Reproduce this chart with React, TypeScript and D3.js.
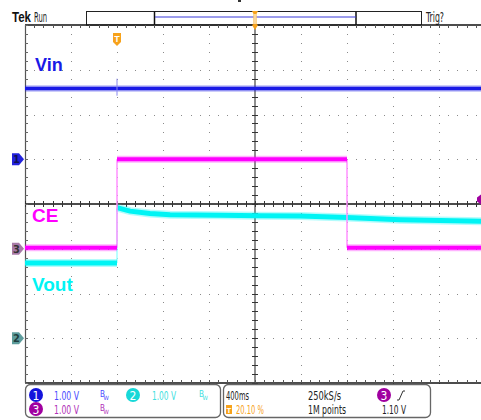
import React from "react";
import * as d3 from "d3";

// ---- data ----
const timeRange = [-0.8, 3.2]; // seconds, 400 ms/div, trigger at 20.10 %
const vinTimes = [-0.8, 3.2];
const vinVolts = [1.58, 1.58];
const vinSpikeTime = [0];
const vinSpikeVolts = [1.42, 1.8];
const ceTimes = [-0.8, 0, 0, 2.0, 2.0, 3.2];
const ceVolts = [0.02, 0.02, 2.0, 2.0, 0.02, 0.02];
const voutTimes = [-0.8, 0, 0, 0.113, 0.287, 0.461, 0.896, 1.243, 1.591, 2.0, 2.461, 2.809, 3.2];
const voutVolts = [1.68, 1.68, 2.92, 2.84, 2.79, 2.76, 2.75, 2.74, 2.73, 2.7, 2.65, 2.63, 2.61];
const channelOffsets = [1, -3, -1]; // ch1, ch2, ch3 (divisions)
const labels = ["Vin", "CE", "Vout"];
const scaleTexts = ["1.00 V", "1.00 V", "1.00 V"];
const horizTexts = ["400ms", "250kS/s", "20.10 %", "1M points", "1.10 V"];

const W = 481;
const H = 420;
const NARROW = "'Liberation Sans Narrow','DejaVu Sans Condensed','Arial Narrow',sans-serif";
const BOLD = "'Liberation Sans',Arial,sans-serif";

const BLUE = "#1a1ae6";
const MAGENTA = "#ff00ff";
const CYAN = "#00f4f4";
const PURPLE = "#a000a0";
const ORANGE = "#f7a21b";

export default function App() {
  const xDiv = d3.scaleLinear().domain([0, 10]).range([25, 485]);
  const yDiv = d3.scaleLinear().domain([-4, 4]).range([383, 25]);
  const xT = d3.scaleLinear().domain(timeRange).range([25, 485]);
  const yCh = (v: number, ch: number) => yDiv(channelOffsets[ch] + v);

  const dots: JSX.Element[] = [];
  d3.range(1, 10).forEach((k) => {
    if (k === 5) return;
    d3.range(0, 41).forEach((j) => {
      const y = yDiv(-4 + j * 0.2);
      dots.push(<rect key={`v${k}-${j}`} x={Math.round(xDiv(k))} y={Math.round(y)} width={1} height={1} fill="#8a8a8a" />);
    });
  });
  d3.range(-3, 4).forEach((m) => {
    if (m === 0) return;
    d3.range(0, 51).forEach((i) => {
      const x = xDiv(i * 0.2);
      dots.push(<rect key={`h${m}-${i}`} x={Math.round(x)} y={Math.round(yDiv(m))} width={1} height={1} fill="#8a8a8a" />);
    });
  });

  const ticks: JSX.Element[] = [];
  d3.range(0, 51).forEach((i) => {
    const x = Math.round(xDiv(i * 0.2)) + 0.5;
    const yc = yDiv(0);
    ticks.push(<line key={`ct${i}`} x1={x} x2={x} y1={yc - 3} y2={yc + 3} stroke="#333" strokeWidth={1} />);
    ticks.push(<line key={`tt${i}`} x1={x} x2={x} y1={25} y2={28} stroke="#555" strokeWidth={1} />);
    ticks.push(<line key={`bt${i}`} x1={x} x2={x} y1={380} y2={383} stroke="#555" strokeWidth={1} />);
  });
  d3.range(0, 41).forEach((j) => {
    const y = Math.round(yDiv(-4 + j * 0.2)) + 0.5;
    const xc = xDiv(5);
    ticks.push(<line key={`cv${j}`} x1={xc - 3} x2={xc + 3} y1={y} y2={y} stroke="#333" strokeWidth={1} />);
    ticks.push(<line key={`lv${j}`} x1={25} x2={28} y1={y} y2={y} stroke="#666" strokeWidth={1} />);
  });

  const line = d3.line<[number, number]>().x((d) => d[0]).y((d) => d[1]);

  const pts = (ts: number[], vs: number[], ch: number): [number, number][] =>
    ts.map((t, i) => [xT(t), yCh(vs[i], ch)]);

  // split a trace into flat (thick) parts and vertical edges (thin)
  const renderTrace = (ts: number[], vs: number[], ch: number, color: string, edge: string, w: number, key: string) => {
    const p = pts(ts, vs, ch);
    const flats: [number, number][][] = [];
    const edges: [number, number][][] = [];
    let cur: [number, number][] = [p[0]];
    for (let i = 1; i < p.length; i++) {
      if (ts[i] === ts[i - 1]) {
        flats.push(cur);
        edges.push([p[i - 1], p[i]]);
        cur = [p[i]];
      } else cur.push(p[i]);
    }
    flats.push(cur);
    return [
      ...edges.map((e, i) => <path key={`${key}e${i}`} d={line(e) || ""} fill="none" stroke={edge} strokeWidth={1.5} />),
      ...flats.map((f, i) => <path key={`${key}h${i}`} d={line(f) || ""} fill="none" stroke={color} strokeOpacity={0.3} strokeWidth={w + 3} />),
      ...flats.map((f, i) => <path key={`${key}f${i}`} d={line(f) || ""} fill="none" stroke={color} strokeWidth={w} />),
    ];
  };

  const chMarker = (ch: number, fill: string, textFill: string, label: string) => {
    const y = yCh(0, ch);
    return (
      <g key={`m${ch}`}>
        <path d={`M12,${y - 6} H19 L24,${y} L19,${y + 6} H12 Z`} fill={fill} />
        <text x={16.5} y={y + 4} fontSize={11} fontFamily={NARROW} fill={textFill} textAnchor="middle" fontWeight="bold">{label}</text>
      </g>
    );
  };

  const bw = (x: number, y: number, c: string, k: string) => (
    <g key={k}>
      <text x={x} y={y} fontSize={8} fontFamily={NARROW} fill={c}>B</text>
      <text x={x + 3.5} y={y + 3} fontSize={6} fontFamily={NARROW} fill={c}>W</text>
    </g>
  );

  const circ = (cx: number, cy: number, fill: string, label: string, k: string) => (
    <g key={k}>
      <circle cx={cx} cy={cy} r={7} fill={fill} />
      <text x={cx} y={cy + 4.5} fontSize={12} fontFamily={NARROW} fill="#fff" textAnchor="middle">{label}</text>
    </g>
  );

  const yTrig = yCh(1.1, 2);

  return (
    <svg width={W} height={H} style={{ position: "absolute", left: 0, top: 0, background: "#fff" }}>
      <rect x={0} y={0} width={W} height={H} fill="#fff" />
      {/* top status bar */}
      <text x={12} y={22} fontSize={14} fontFamily={BOLD} fontWeight="bold" fill="#111" textLength={19} lengthAdjust="spacingAndGlyphs">Tek</text>
      <text x={34} y={22} fontSize={14} fontFamily={NARROW} fill="#222" textLength={13} lengthAdjust="spacingAndGlyphs">Run</text>
      <rect x={86.5} y={11.5} width={335} height={13.5} fill="#fff" stroke="#222" strokeWidth={1} />
      <line x1={154.5} x2={154.5} y1={11.5} y2={25} stroke="#111" strokeWidth={1.5} />
      <line x1={356} x2={356} y1={11.5} y2={25} stroke="#111" strokeWidth={1.5} />
      <line x1={155} x2={356} y1={17} y2={17} stroke="#3838d8" strokeWidth={1} />
      <text x={426} y={22} fontSize={14} fontFamily={NARROW} fill="#222" textLength={18} lengthAdjust="spacingAndGlyphs">Trig?</text>
      <rect x={238} y={0} width={3} height={2} fill="#333" />

      {/* graticule */}
      {dots}
      <line x1={25} x2={481} y1={25} y2={25} stroke="#111" strokeWidth={1.5} />
      <line x1={25} x2={481} y1={383} y2={383} stroke="#111" strokeWidth={1.5} />
      <line x1={25.5} x2={25.5} y1={25} y2={383} stroke="#555" strokeWidth={1.2} />
      <line x1={xDiv(5)} x2={xDiv(5)} y1={25} y2={383} stroke="#444" strokeWidth={1.2} />
      <line x1={25} x2={481} y1={yDiv(0)} y2={yDiv(0)} stroke="#111" strokeWidth={1.5} />
      {ticks}

      {/* trigger position markers */}
      <path d={`M${xDiv(5) - 3},${11} H${xDiv(5) + 3} L${xDiv(5) + 1.5},${14} V${24} L${xDiv(5) + 3},${25} L${xDiv(5)},${30} L${xDiv(5) - 3},${25} L${xDiv(5) - 1.5},${24} V14 Z`} fill={ORANGE} />
      <rect x={xDiv(5) - 1.5} y={14} width={3} height={10} fill="#fbd79a" />
      <path d={`M${xT(0) - 4},33 H${xT(0) + 4} V42 L${xT(0)},46 L${xT(0) - 4},42 Z`} fill={ORANGE} />
      <text x={xT(0)} y={42} fontSize={9} fontFamily={BOLD} fontWeight="bold" fill="#fff" textAnchor="middle">T</text>

      {/* traces */}
      {renderTrace(vinTimes, vinVolts, 0, BLUE, BLUE, 3.5, "vin")}
      <line x1={xT(vinSpikeTime[0])} x2={xT(vinSpikeTime[0])} y1={yCh(vinSpikeVolts[0], 0)} y2={yCh(vinSpikeVolts[1], 0)} stroke="#8a8aee" strokeWidth={1} />
      {renderTrace(voutTimes, voutVolts, 1, CYAN, "#a0ffff", 5, "vout")}
      {renderTrace(ceTimes, ceVolts, 2, MAGENTA, "#ff90ff", 4, "ce")}

      {/* labels */}
      <text x={35} y={71} fontSize={18} fontFamily={BOLD} fontWeight="bold" fill="#1a1ae6">{labels[0]}</text>
      <text x={32} y={222} fontSize={19} fontFamily={BOLD} fontWeight="bold" fill={MAGENTA}>{labels[1]}</text>
      <text x={32} y={291} fontSize={19} fontFamily={BOLD} fontWeight="bold" fill={CYAN}>{labels[2]}</text>

      {/* channel ground markers */}
      {chMarker(0, "#2222dd", "#111155", "1")}
      {chMarker(2, "#a77aa7", "#333", "3")}
      {chMarker(1, "#5d9c9c", "#1f3f3f", "2")}

      {/* trigger level marker */}
      <path d={`M481,${yTrig - 5} L477,${yTrig - 2} V${yTrig + 2} L481,${yTrig + 5} Z`} fill={PURPLE} />

      {/* bottom readout */}
      <rect x={25.5} y={384.5} width={195} height={33} rx={5} fill="#fff" stroke="#666" strokeWidth={1.3} />
      <rect x={223.5} y={384.5} width={207} height={33} rx={5} fill="#fff" stroke="#666" strokeWidth={1.3} />
      {circ(36, 395, "#1414dc", "1", "c1")}
      {circ(133, 395, "#18d8d8", "2", "c2")}
      {circ(36, 409, PURPLE, "3", "c3")}
      <text x={54} y={400} fontSize={12.5} fontFamily={NARROW} fill="#4a4aff" textLength={25} lengthAdjust="spacingAndGlyphs">{scaleTexts[0]}</text>
      <text x={152} y={400} fontSize={12.5} fontFamily={NARROW} fill="#3ee0e0" textLength={24} lengthAdjust="spacingAndGlyphs">{scaleTexts[1]}</text>
      <text x={54} y={414} fontSize={12.5} fontFamily={NARROW} fill="#b030b8" textLength={25} lengthAdjust="spacingAndGlyphs">{scaleTexts[2]}</text>
      {bw(100, 397, "#4a4aff", "b1")}
      {bw(199, 397, "#3ee0e0", "b2")}
      {bw(100, 411, "#b030b8", "b3")}

      <text x={226} y={400} fontSize={12.5} fontFamily={NARROW} fill="#222" textLength={23} lengthAdjust="spacingAndGlyphs">{horizTexts[0]}</text>
      <text x={308} y={400} fontSize={12.5} fontFamily={NARROW} fill="#222" textLength={33} lengthAdjust="spacingAndGlyphs">{horizTexts[1]}</text>
      {circ(384, 395, PURPLE, "3", "c3b")}
      <path d="M397,400 H399 L403,391 H405" fill="none" stroke="#333" strokeWidth={1} />
      <rect x={226} y={405} width={6} height={9} fill={ORANGE} />
      <text x={229} y={412.5} fontSize={8} fontFamily={BOLD} fontWeight="bold" fill="#fff" textAnchor="middle">T</text>
      <text x={236} y={414} fontSize={12.5} fontFamily={NARROW} fill={ORANGE} textLength={28} lengthAdjust="spacingAndGlyphs">{horizTexts[2]}</text>
      <text x={308} y={414} fontSize={12.5} fontFamily={NARROW} fill="#222" textLength={38} lengthAdjust="spacingAndGlyphs">{horizTexts[3]}</text>
      <text x={382} y={414} fontSize={12.5} fontFamily={NARROW} fill="#222" textLength={24} lengthAdjust="spacingAndGlyphs">{horizTexts[4]}</text>
    </svg>
  );
}
